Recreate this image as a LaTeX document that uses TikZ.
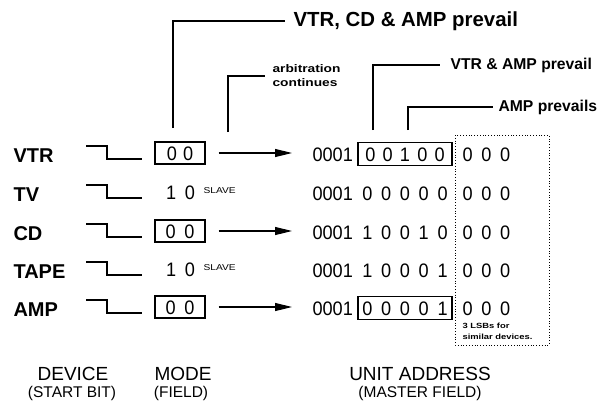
\documentclass[tikz,border=0pt]{standalone}
\usepackage{fontspec}
\setmainfont{Liberation Sans}
\newfontfamily\digA[FakeStretch=0.93]{Liberation Sans}
\newfontfamily\digB[FakeStretch=0.93,WordSpace=1.5]{Liberation Sans}
\newfontfamily\digC[FakeStretch=0.93,WordSpace=1.2]{Liberation Sans}
\newfontfamily\smallbold[FakeStretch=1.25]{Liberation Sans Bold}
\newfontfamily\smallreg[FakeStretch=1.2]{Liberation Sans}
\usetikzlibrary{arrows.meta}
\begin{document}
\begin{tikzpicture}[x=1pt,y=-1pt,line width=1.1pt,
 devlabel/.style={font=\fontsize{20}{24}\selectfont\bfseries,anchor=base west,inner sep=0pt},
 addrtext/.style={font=\fontsize{19.5}{20}\digA,inner sep=0pt,anchor=base west},
 lsbtext/.style={font=\fontsize{19.5}{20}\digC,inner sep=0pt,anchor=base west},
 modebox/.style={minimum width=50pt,minimum height=22pt,inner sep=0pt,text height=14pt,text depth=0pt,font=\fontsize{19.5}{20}\digA},
 unitbox/.style={minimum width=94pt,minimum height=23pt,inner sep=0pt,text height=14pt,text depth=0pt,font=\fontsize{19.5}{20}\digB},
 boxed/.style={draw},
 slave/.style={font=\fontsize{8.5}{9}\smallreg,anchor=base west,inner sep=0pt},
 arr/.style={-{Triangle[length=17pt,width=8pt]}},
 callout/.style={font=\fontsize{15.7}{18}\selectfont\bfseries,anchor=west,inner sep=0pt},
 note/.style={font=\fontsize{7.5}{9}\smallbold,anchor=base west,inner sep=0pt},
 foot/.style={font=\fontsize{19}{20}\selectfont,anchor=base,inner sep=0pt},
 footsub/.style={font=\fontsize{15.5}{16}\selectfont,anchor=base,inner sep=0pt},
 dots/.style={dotted,line width=0.8pt},
]
\useasboundingbox (0,0) rectangle (599,405);

% ---- rows ----
% VTR (c=154)
\node[devlabel] (dev1) at (13,162) {VTR};
\draw (86,146) -- (107,146) -- (107,159) -- (142,159);
\node[modebox,boxed] (m1) at (180,153) {0 0};
\node[addrtext] (a1) at (312,161) {0001};
\node[unitbox,boxed] (u1) at (405,154) {0 0 1 0 0};
\node[lsbtext] (l1) at (462,161) {0 0 0};
\coordinate (t1) at (m1.east -| a1.west);
\draw[arr] ([xshift=13pt]m1.east) -- ([xshift=-20pt]t1);

% TV (c=193)
\node[devlabel] (dev2) at (13,201) {TV};
\draw (86,185) -- (107,185) -- (107,198) -- (142,198);
\node[modebox] (m2) at (180.5,192) {1 0};
\node[slave] (s2) at (203,193) {SLAVE};
\node[addrtext] (a2) at (312,200) {0001};
\node[unitbox] (u2) at (405,193) {0 0 0 0 0};
\node[lsbtext] (l2) at (462,200) {0 0 0};

% CD (c=232)
\node[devlabel] (dev3) at (13,240) {CD};
\draw (86,224) -- (107,224) -- (107,237) -- (142,237);
\node[modebox,boxed] (m3) at (180,231) {0 0};
\node[addrtext] (a3) at (312,239) {0001};
\node[unitbox] (u3) at (405,232) {1 0 0 1 0};
\node[lsbtext] (l3) at (462,239) {0 0 0};
\coordinate (t3) at (m3.east -| a3.west);
\draw[arr] ([xshift=13pt]m3.east) -- ([xshift=-20pt]t3);

% TAPE (c=270)
\node[devlabel] (dev4) at (13,278) {TAPE};
\draw (86,262) -- (107,262) -- (107,275) -- (142,275);
\node[modebox] (m4) at (180.5,269) {1 0};
\node[slave] (s4) at (203,270) {SLAVE};
\node[addrtext] (a4) at (312,277) {0001};
\node[unitbox] (u4) at (405,270) {1 0 0 0 1};
\node[lsbtext] (l4) at (462,277) {0 0 0};

% AMP (c=308)
\node[devlabel] (dev5) at (13,316) {AMP};
\draw (86,300) -- (107,300) -- (107,313) -- (142,313);
\node[modebox,boxed] (m5) at (180,307) {0 0};
\node[addrtext] (a5) at (312,315) {0001};
\node[unitbox,boxed] (u5) at (405,308) {0 0 0 0 1};
\node[lsbtext] (l5) at (462,315) {0 0 0};
\coordinate (t5) at (m5.east -| a5.west);
\draw[arr] ([xshift=13pt]m5.east) -- ([xshift=-20pt]t5);

% ---- dotted LSB box ----
\draw[dots] (455,135) rectangle (549,345);
\node[note] (n1) at (462,328) {3 LSBs for};
\node[note] (n2) at (462,339) {similar devices.};

% ---- callouts ----
\node[callout,font=\fontsize{20.4}{22}\selectfont\bfseries] (c1) at (293,21) {VTR, CD \& AMP prevail};
\coordinate (c1a) at (173,128);
\draw (c1a) |- ([xshift=-8pt]c1.west);

\node[note,anchor=west,align=left,font=\fontsize{11}{14}\smallbold] (c2) at (272,76) {arbitration\\continues};
\coordinate (c2a) at (228,132);
\draw (c2a) |- ([xshift=-7pt]c2.west);

\node[callout] (c3) at (450,65) {VTR \& AMP prevail};
\coordinate (c3a) at (373,130);
\draw (c3a) |- ([xshift=-10pt]c3.west);

\node[callout] (c4) at (498,107) {AMP prevails};
\coordinate (c4a) at (408,130);
\draw (c4a) |- ([xshift=-5pt]c4.west);

% ---- footer ----
\node[foot] (f1) at (73,380) {DEVICE};
\node[footsub] (f1s) at (72,397) {(START BIT)};
\node[foot] (f2) at (183,380) {MODE};
\node[footsub] (f2s) at (181,397) {(FIELD)};
\node[foot] (f3) at (420,380) {UNIT ADDRESS};
\node[footsub] (f3s) at (420,397) {(MASTER FIELD)};
\end{tikzpicture}
\end{document}
